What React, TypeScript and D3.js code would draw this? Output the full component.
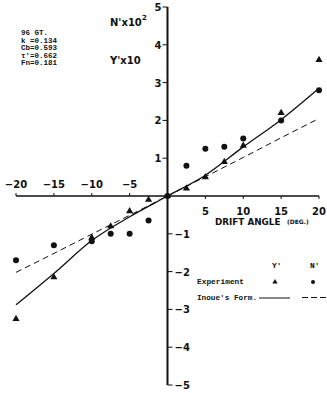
import { useEffect, useRef } from 'react';
import * as d3 from 'd3';

// drift angle (deg.) for the experiment points
const expAngles = [-20, -15, -10, -7.5, -5, -2.5, 0, 2.5, 5, 7.5, 10, 15, 20];
// Y' x 10 (triangles)
const yExp = [-3.25, -2.15, -1.1, -0.8, -0.4, -0.1, 0, 0.2, 0.5, 0.9, 1.33, 2.2, 3.6];
// N' x 10^2 (dots)
const nExp = [-1.7, -1.3, -1.2, -1.0, -1.0, -0.65, 0, 0.8, 1.25, 1.3, 1.52, 2.0, 2.8];

// Inoue's formula curves
const formAngles = [-20, -15, -10, -5, 0, 5, 10, 15, 20];
const yForm = [-2.88, -2.05, -1.18, -0.55, 0, 0.55, 1.3, 2.02, 2.85];
const nForm = [-2.02, -1.52, -1.01, -0.51, 0, 0.51, 1.02, 1.54, 2.05];

const xTicks = [-20, -15, -10, -5, 5, 10, 15, 20];
const yTicks = [-5, -4, -3, -2, -1, 1, 2, 3, 4, 5];

const infoLines = ['96 GT.', 'k =0.134', 'Cb=0.593', "τ'=0.662", 'Fn=0.181'];

export default function App() {
    const svgRef = useRef<SVGSVGElement>(null);

    useEffect(() => {
        const svg = d3.select(svgRef.current);
        svg.selectAll('*').remove();

        const x = d3.scaleLinear().domain([-20, 20]).range([16, 319]);
        const y = d3.scaleLinear().domain([-5, 5]).range([385, 7]);
        const ink = '#111';
        const numFont = "'DejaVu Sans', sans-serif";
        const typeFont = "'Liberation Mono', monospace";

        // x axis
        svg.append('line')
            .attr('x1', x(-20)).attr('x2', x(20))
            .attr('y1', y(0)).attr('y2', y(0))
            .attr('stroke', ink).attr('stroke-width', 1.3);

        xTicks.forEach((t) => {
            const neg = t < 0;
            svg.append('line')
                .attr('x1', x(t)).attr('x2', x(t))
                .attr('y1', y(0)).attr('y2', neg ? y(0) - 3 : y(0) + 3)
                .attr('stroke', ink).attr('stroke-width', 1);
            svg.append('text')
                .attr('x', x(t))
                .attr('y', neg ? y(0) - 8 : y(0) + 19)
                .attr('text-anchor', 'middle')
                .style('font-family', numFont)
                .style('font-weight', 'bold')
                .style('font-size', '10px')
                .attr('fill', ink)
                .text(neg ? `\u2212${-t}` : `${t}`);
        });

        // y axis
        svg.append('line')
            .attr('x1', x(0)).attr('x2', x(0))
            .attr('y1', y(5)).attr('y2', y(-5))
            .attr('stroke', ink).attr('stroke-width', 2);

        yTicks.forEach((t) => {
            const neg = t < 0;
            svg.append('line')
                .attr('x1', x(0)).attr('x2', neg ? x(0) + 5 : x(0) - 5)
                .attr('y1', y(t)).attr('y2', y(t))
                .attr('stroke', ink).attr('stroke-width', 1);
            svg.append('text')
                .attr('x', neg ? x(0) + 7 : x(0) - 6)
                .attr('y', y(t) + 4)
                .attr('text-anchor', neg ? 'start' : 'end')
                .style('font-family', numFont)
                .style('font-weight', 'bold')
                .style('font-size', '10px')
                .attr('fill', ink)
                .text(neg ? `\u2212${-t}` : `${t}`);
        });

        // axis title
        svg.append('text')
            .attr('x', 215).attr('y', 225)
            .style('font-family', numFont)
            .style('font-weight', 'bold')
            .style('font-size', '8.8px')
            .attr('fill', ink)
            .text('DRIFT ANGLE');
        svg.append('text')
            .attr('x', 287).attr('y', 224)
            .style('font-family', numFont)
            .style('font-weight', 'bold')
            .style('font-size', '6px')
            .attr('fill', ink)
            .text('(DEG.)');

        // quantity labels
        svg.append('text')
            .attr('x', 110).attr('y', 26)
            .style('font-family', numFont)
            .style('font-weight', 'bold')
            .style('font-size', '10px')
            .attr('fill', ink)
            .text("N'x10");
        svg.append('text')
            .attr('x', 142).attr('y', 20)
            .style('font-family', numFont)
            .style('font-weight', 'bold')
            .style('font-size', '7px')
            .attr('fill', ink)
            .text('2');
        svg.append('text')
            .attr('x', 110).attr('y', 64)
            .style('font-family', numFont)
            .style('font-weight', 'bold')
            .style('font-size', '10px')
            .attr('fill', ink)
            .text("Y'x10");

        // ship particulars
        infoLines.forEach((s, i) => {
            svg.append('text')
                .attr('x', 21).attr('y', 35 + i * 7.5)
                .style('font-family', typeFont)
                .style('font-weight', 'bold')
                .style('font-size', '7.5px')
                .attr('fill', ink)
                .text(s);
        });

        // Inoue's formula curves
        const line = d3.line<[number, number]>()
            .x((d) => x(d[0]))
            .y((d) => y(d[1]))
            .curve(d3.curveMonotoneX);

        svg.append('path')
            .attr('d', line(formAngles.map((a, i) => [a, yForm[i]] as [number, number])))
            .attr('fill', 'none')
            .attr('stroke', ink)
            .attr('stroke-width', 1.3);

        svg.append('path')
            .attr('d', line(formAngles.map((a, i) => [a, nForm[i]] as [number, number])))
            .attr('fill', 'none')
            .attr('stroke', ink)
            .attr('stroke-width', 1)
            .attr('stroke-dasharray', '6,4');

        // experiment points
        const tri = d3.symbol().type(d3.symbolTriangle).size(22);
        expAngles.forEach((a, i) => {
            svg.append('path')
                .attr('d', tri())
                .attr('transform', `translate(${x(a)},${y(yExp[i])})`)
                .attr('fill', ink);
            svg.append('circle')
                .attr('cx', x(a)).attr('cy', y(nExp[i]))
                .attr('r', 3)
                .attr('fill', ink);
        });

        // legend
        const legend = svg.append('g');
        legend.append('text')
            .attr('x', 272).attr('y', 268)
            .style('font-family', typeFont)
            .style('font-weight', 'bold')
            .style('font-size', '8px')
            .attr('fill', ink)
            .text("Y'");
        legend.append('text')
            .attr('x', 310).attr('y', 268)
            .style('font-family', typeFont)
            .style('font-weight', 'bold')
            .style('font-size', '8px')
            .attr('fill', ink)
            .text("N'");
        legend.append('text')
            .attr('x', 197).attr('y', 284)
            .attr('textLength', 47)
            .attr('lengthAdjust', 'spacingAndGlyphs')
            .style('font-family', typeFont)
            .style('font-weight', 'bold')
            .style('font-size', '7.5px')
            .attr('fill', ink)
            .text('Experiment');
        legend.append('path')
            .attr('d', d3.symbol().type(d3.symbolTriangle).size(12)())
            .attr('transform', 'translate(275,282)')
            .attr('fill', ink);
        legend.append('circle')
            .attr('cx', 313).attr('cy', 282).attr('r', 2)
            .attr('fill', ink);
        legend.append('text')
            .attr('x', 197).attr('y', 300)
            .attr('textLength', 60)
            .attr('lengthAdjust', 'spacingAndGlyphs')
            .style('font-family', typeFont)
            .style('font-weight', 'bold')
            .style('font-size', '7.5px')
            .attr('fill', ink)
            .text("Inoue's Form.");
        legend.append('line')
            .attr('x1', 259).attr('x2', 290)
            .attr('y1', 298).attr('y2', 298)
            .attr('stroke', ink).attr('stroke-width', 1);
        legend.append('line')
            .attr('x1', 302).attr('x2', 327)
            .attr('y1', 297.5).attr('y2', 297.5)
            .attr('stroke', ink).attr('stroke-width', 1)
            .attr('stroke-dasharray', '6,3');
    }, []);

    return (
        <svg
            ref={svgRef}
            width={327}
            height={393}
            style={{ position: 'absolute', left: 0, top: 0, background: '#fff' }}
        />
    );
}
